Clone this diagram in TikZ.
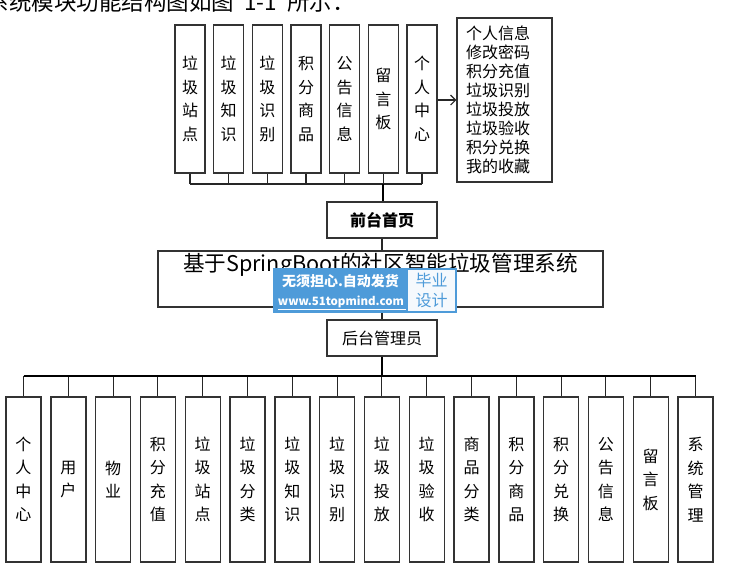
\documentclass[tikz,border=0pt]{standalone}
\usepackage{fontspec}
\usetikzlibrary{arrows.meta}
\setmainfont{Noto Sans CJK SC}
\begin{document}
\begin{tikzpicture}[x=1pt,y=-1pt,
  box/.style={draw=black!80,line width=1.4pt,fill=white,inner sep=0pt,align=center},
  topbox/.style={box,minimum width=30pt,minimum height=148pt,font=\fontsize{16}{23.5}\selectfont},
  botbox/.style={box,minimum width=35pt,minimum height=165pt,font=\fontsize{16}{23.5}\selectfont},
  midbox/.style={box,minimum width=110pt,minimum height=36pt,font=\fontsize{16}{18}\selectfont},
  conn/.style={draw=black!85,line width=1.1pt},
  thick conn/.style={draw=black,line width=2pt},
  wm/.style={text=white,inner sep=0pt}
]
\useasboundingbox (0,0) rectangle (731,582);
\clip (0,0) rectangle (731,582);
\fill[white] (0,0) rectangle (731,582);

% caption (cropped at top, as in the reference)
\node[anchor=base west,inner sep=0pt,font=\fontsize{22.5}{22.5}\selectfont] (cap) at (-13.5,10) {系统模块功能结构图如图\hspace{0.45em}1-1\hspace{0.45em}所示：};

% top boxes
\foreach \i/\t in {0/垃\\圾\\站\\点,1/垃\\圾\\知\\识,2/垃\\圾\\识\\别,3/积\\分\\商\\品,4/公\\告\\信\\息,5/留\\言\\板,6/个\\人\\中\\心}{
  \node[topbox] (t\i) at ({190+38.67*\i},99) {\t};
}
\node[box,minimum width=95pt,minimum height=164pt,align=left,inner xsep=9pt,text width=77pt,font=\fontsize{16}{19}\selectfont] (info) at (504.5,100)
  {个人信息\\修改密码\\积分充值\\垃圾识别\\垃圾投放\\垃圾验收\\积分兑换\\我的收藏};
\draw[conn,-{Straight Barb[length=5pt,width=10pt]}] (t6.east |- 0,100) -- (info.west |- 0,100);

% front page
\node[midbox,font=\fontsize{16}{18}\selectfont\bfseries] (front) at (382,220) {前台首页};
\coordinate (tb) at (383,184);
\foreach \i in {0,...,6}{ \draw[conn] (t\i.south) -- (t\i.south |- tb); }
\draw[conn] (t0.south |- tb) -- (t6.south |- tb);
\draw[thick conn] (tb) -- (front.north -| tb);

% main system box
\node[box,minimum width=445pt,minimum height=56pt] (sys) at (380.5,279) {};
\node[inner sep=0pt,font=\fontsize{21.6}{22}\selectfont] (title) at (380.5,265) {基于SpringBoot的社区智能垃圾管理系统};
\draw[conn] (front.south) -- (sys.north -| front.south);

% back admin
\node[midbox] (admin) at (382,338) {后台管理员};
\draw[conn] (sys.south -| admin.north) -- (admin.north);

% bottom boxes
\foreach \i/\t in {0/个\\人\\中\\心,1/用\\户,2/物\\业,3/积\\分\\充\\值,4/垃\\圾\\站\\点,5/垃\\圾\\分\\类,6/垃\\圾\\知\\识,7/垃\\圾\\识\\别,8/垃\\圾\\投\\放,9/垃\\圾\\验\\收,10/商\\品\\分\\类,11/积\\分\\商\\品,12/积\\分\\兑\\换,13/公\\告\\信\\息,14/留\\言\\板,15/系\\统\\管\\理}{
  \node[botbox] (b\i) at ({23.5+44.8*\i},479.5) {\t};
}
\coordinate (bb) at (382,376);
\foreach \i in {0,...,15}{ \draw[conn] (b\i.north |- bb) -- (b\i.north); }
\draw[thick conn] (b0.north |- bb) -- (b15.north |- bb);
\draw[thick conn] (admin.south) -- (bb);

% watermark overlay
\fill[fill={rgb,255:red,78;green,155;blue,217}] (273,268) rectangle (457,313);
\fill[white,opacity=0.95] (408,270) rectangle (455,311);
\node[wm,font=\fontsize{14}{15}\selectfont\bfseries] (wm1) at (340.5,281) {无须担心.自动发货};
\node[wm,font=\fontsize{11.5}{13}\selectfont\bfseries] (wm2) at (341,302) {www.51topmind.com};
\draw[white,line width=0.6pt] (wm2.south west) ++(0,1.5) -- ++(128,0);
\node[inner sep=0pt,align=center,text={rgb,255:red,78;green,155;blue,217},font=\fontsize{16}{20}\selectfont] (wm3) at (431.5,290.5) {毕业\\设计};
\end{tikzpicture}
\end{document}
